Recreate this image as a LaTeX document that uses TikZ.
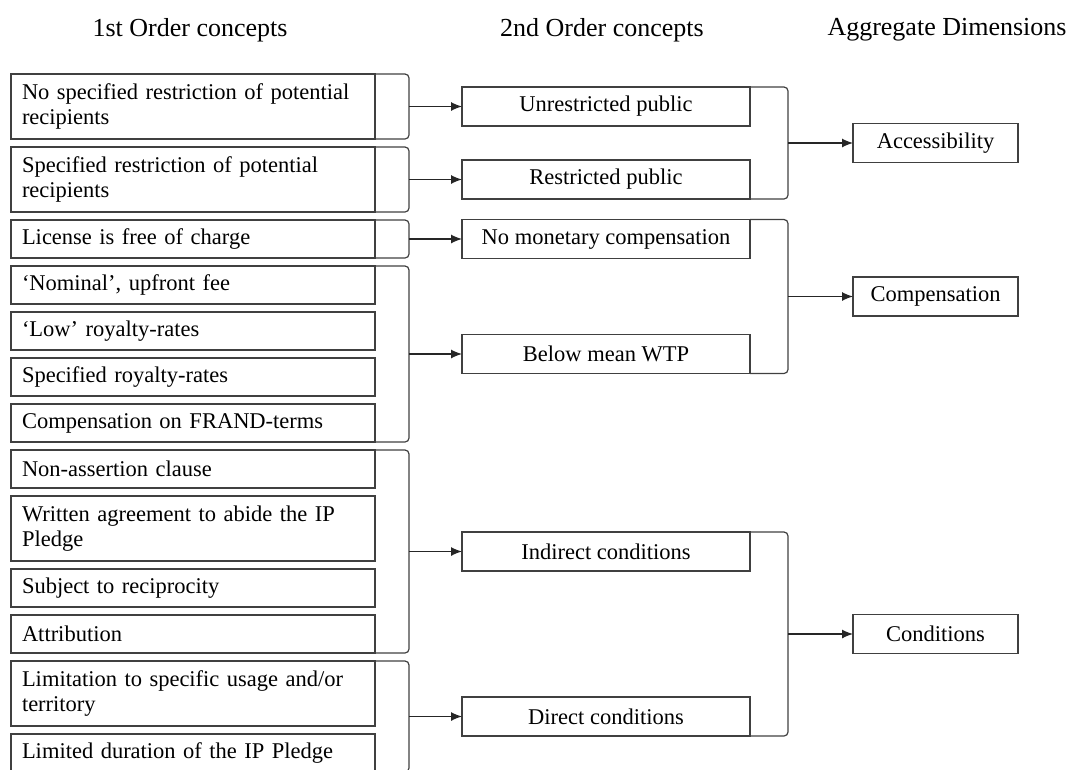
\documentclass[tikz,border=0pt]{standalone}
\usepackage{fontspec}
\setmainfont{Liberation Serif}
\usetikzlibrary{arrows.meta, positioning, calc}

\newcommand{\boxfont}{\fontsize{22.5}{25}\selectfont}
\newcommand{\headfont}{\fontsize{26}{30}\selectfont}

% bracket from top node to bottom node, with a coordinate at its middle
\newcommand{\grpbracket}[4]{%
    \draw[bracket] (#1.north east) -- ++(#3,0) |- (#2.south east);
    \coordinate (#4) at ($(#1.north east)!0.5!(#2.south east) + (#3,0)$);
}

\begin{document}
\begin{tikzpicture}[
    x=1pt, y=-1pt,
    node distance=8pt,
    first/.style={
        rectangle,
        draw=black!75,
        line width=1.2pt,
        outer sep=0pt,
        text width=342pt,
        inner xsep=11pt,
        inner ysep=2pt,
        minimum height=38pt,
        align=left,
        font=\boxfont
    },
    tall/.style={first, minimum height=65pt},
    second/.style={
        rectangle,
        draw=black!75,
        line width=1.2pt,
        outer sep=0pt,
        minimum width=288pt,
        minimum height=39pt,
        inner sep=2pt,
        align=center,
        font=\boxfont
    },
    aggr/.style={second, minimum width=165pt},
    head/.style={font=\headfont},
    bracket/.style={draw=black!75, line width=1.2pt, rounded corners=4pt},
    arrow/.style={-{Latex[length=11pt,width=9pt]}, line width=1.2pt, draw=black!85}
]
\useasboundingbox (0,0) rectangle (1073,769);
\clip (0,0) rectangle (1073,769);

% Column headers
\node (h1) [head] at (190,30) {1st Order concepts};
\node (h2) [head] at (602,30) {2nd Order concepts};
\node (h3) [head] at (947,30) {Aggregate Dimensions};

% 1st order concepts
\node (c1) [tall, anchor=north west] at (11,74)
    {No specified restriction of potential\\recipients};
\node (c2) [tall, below=of c1]
    {Specified restriction of potential\\recipients};
\node (c3) [first, below=of c2] {License is free of charge};
\node (c4) [first, below=of c3] {‘Nominal’, upfront fee};
\node (c5) [first, below=of c4] {‘Low’ royalty-rates};
\node (c6) [first, below=of c5] {Specified royalty-rates};
\node (c7) [first, below=of c6] {Compensation on FRAND-terms};
\node (c8) [first, below=of c7] {Non-assertion clause};
\node (c9) [tall, below=of c8]
    {Written agreement to abide the IP\\Pledge};
\node (c10) [first, below=of c9] {Subject to reciprocity};
\node (c11) [first, below=of c10] {Attribution};
\node (c12) [tall, below=of c11]
    {Limitation to specific usage and/or\\territory};
\node (c13) [first, below=of c12] {Limited duration of the IP Pledge};

% Brackets of the 1st order groups
\grpbracket{c1}{c1}{34}{b1}
\grpbracket{c2}{c2}{34}{b2}
\grpbracket{c3}{c3}{34}{b3}
\grpbracket{c4}{c7}{34}{b4}
\grpbracket{c8}{c11}{34}{b5}
\grpbracket{c12}{c13}{34}{b6}

% 2nd order concepts
\node (unres) [second, anchor=west] at ($(b1)+(53,0)$) {Unrestricted public};
\node (restr) [second, anchor=west] at ($(b2)+(53,0)$) {Restricted public};
\node (nomon) [second, anchor=west] at ($(b3)+(53,0)$) {No monetary compensation};
\node (wtp) [second, anchor=west] at ($(b4)+(53,0)$) {Below mean WTP};
\node (indir) [second, anchor=west] at ($(b5)+(53,0)$) {Indirect conditions};
\node (direct) [second, anchor=west] at ($(b6)+(53,0)$) {Direct conditions};

\draw[arrow] (b1) -- (unres);
\draw[arrow] (b2) -- (restr);
\draw[arrow] (b3) -- (nomon);
\draw[arrow] (b4) -- (wtp);
\draw[arrow] (b5) -- (indir);
\draw[arrow] (b6) -- (direct);

% Brackets of the 2nd order groups
\grpbracket{unres}{restr}{38}{b7}
\grpbracket{nomon}{wtp}{38}{b8}
\grpbracket{indir}{direct}{38}{b9}

% Aggregate dimensions
\node (access) [aggr, anchor=west] at ($(b7)+(65,0)$) {Accessibility};
\node (comp) [aggr, anchor=west] at ($(b8)+(65,0)$) {Compensation};
\node (cond) [aggr, anchor=west] at ($(b9)+(65,0)$) {Conditions};

\draw[arrow] (b7) -- (access);
\draw[arrow] (b8) -- (comp);
\draw[arrow] (b9) -- (cond);

\end{tikzpicture}
\end{document}
